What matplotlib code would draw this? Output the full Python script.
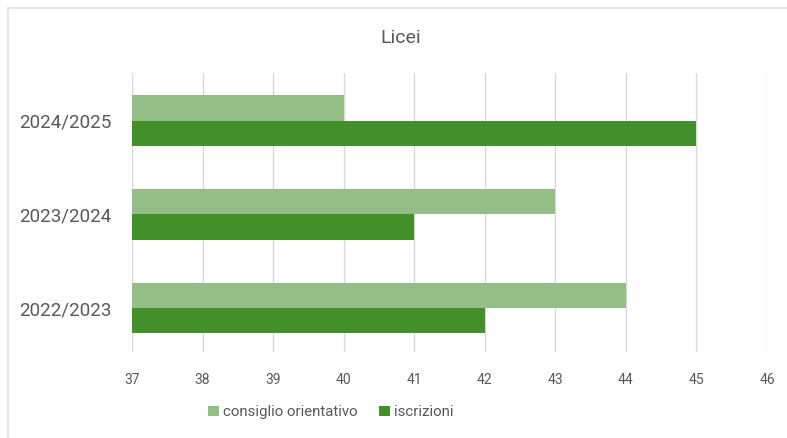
import matplotlib

matplotlib.use("Agg")
import matplotlib.pyplot as plt
from matplotlib.lines import Line2D
import numpy as np

years = ["2022/2023", "2023/2024", "2024/2025"]
consiglio = [44, 43, 40]
iscrizioni = [42, 41, 45]
x_ticks = list(range(37, 47))

light_green = "#93BF87"
dark_green = "#43902A"
text_grey = "#595959"
grid_grey = "#D9D9D9"

plt.rcParams["font.family"] = ["Roboto", "DejaVu Sans"]

fig = plt.figure(figsize=(7.87, 4.38), dpi=100)
ax = fig.add_axes([0.1677, 0.1963, 0.8069, 0.637])

pos = np.arange(len(years))
h = 0.27
ax.barh(pos + h / 2, [v - 37 for v in consiglio], height=h, left=37,
        color=light_green, label="consiglio orientativo", zorder=3)
ax.barh(pos - h / 2, [v - 37 for v in iscrizioni], height=h, left=37,
        color=dark_green, label="iscrizioni", zorder=3)

ax.set_xlim(37, 46)
ax.set_ylim(-0.47, 2.51)
ax.set_xticks(x_ticks)
ax.set_yticks(pos)
ax.set_yticklabels(years)
ax.grid(axis="x", color=grid_grey, linewidth=1, zorder=0)
ax.set_axisbelow(True)
for s in ax.spines.values():
    s.set_visible(False)
ax.tick_params(axis="both", length=0, colors=text_grey)
ax.tick_params(axis="x", labelsize=10, pad=15)
ax.tick_params(axis="y", labelsize=13.5, pad=15)

fig.text(401 / 787, 1 - 38 / 438, "Licei", ha="center", va="center",
         fontsize=14, color=text_grey)

ax.legend(loc="center", bbox_to_anchor=(331 / 787, 1 - 412 / 438), bbox_transform=fig.transFigure,
          ncol=2, frameon=False, fontsize=10.8, labelcolor=text_grey,
          handlelength=0.7, handleheight=0.7, handletextpad=0.3, columnspacing=1.4)

# light frame around the chart area
fig.add_artist(Line2D([8 / 787, 1], [1 - 8 / 438, 1 - 8 / 438], transform=fig.transFigure,
                      color="#E0E0E0", linewidth=1.2))
fig.add_artist(Line2D([8 / 787, 8 / 787], [0, 1 - 8 / 438], transform=fig.transFigure,
                      color="#E0E0E0", linewidth=1.2))

fig.savefig("out.png", dpi=100)
